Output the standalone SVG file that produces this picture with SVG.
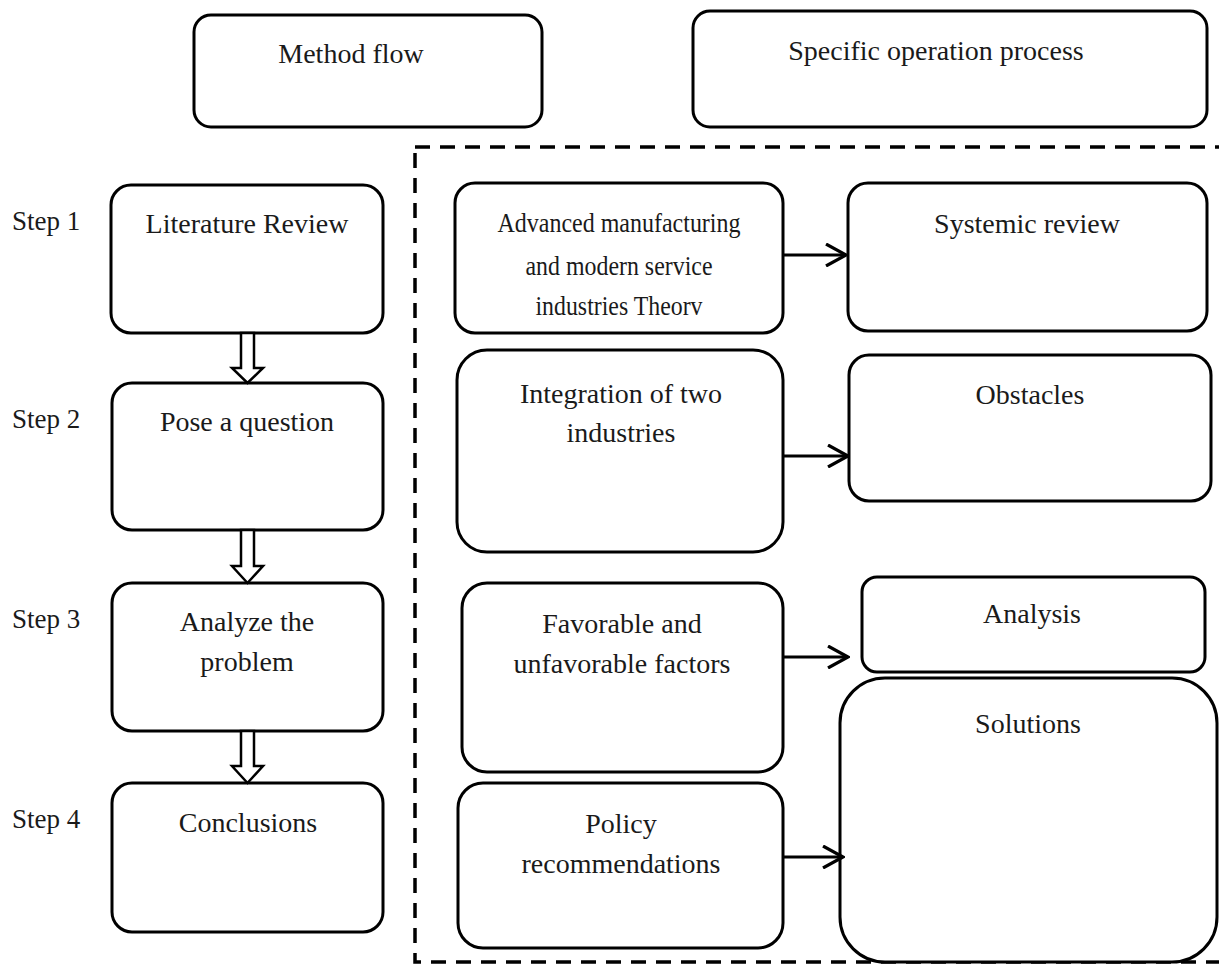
<svg xmlns="http://www.w3.org/2000/svg" width="1219" height="965" viewBox="0 0 1219 965">
<defs>
<style>
.box{fill:#fff;stroke:#000;stroke-width:3}
.t{font-family:"Liberation Serif","Times New Roman",serif;font-size:28px;fill:#1a1a1a;text-anchor:middle}
.s{font-family:"Liberation Serif","Times New Roman",serif;font-size:27px;fill:#1a1a1a}
.conn{stroke:#000;stroke-width:3;fill:none}
.hollow{fill:#fff;stroke:#000;stroke-width:2.5;stroke-linejoin:miter}
.dash{fill:none;stroke:#000;stroke-width:3.5;stroke-dasharray:15 10}
</style>
<marker id="arr" viewBox="0 0 24 24" refX="22" refY="12" markerWidth="24" markerHeight="24" markerUnits="userSpaceOnUse" orient="auto">
<path d="M2,1 L22,12 L2,23" fill="none" stroke="#000" stroke-width="3.2"/>
</marker>
</defs>
<rect width="1219" height="965" fill="#fff"/>

<rect class="dash" x="415" y="147" width="808" height="815"/>

<g id="method-flow"><rect class="box" x="194" y="15" width="348" height="112" rx="17"/><text class="t" x="351" y="63">Method flow</text></g>
<g id="specific-operation"><rect class="box" x="693" y="11" width="514" height="116" rx="17"/><text class="t" x="936" y="60">Specific operation process</text></g>

<g id="step-labels">
<text class="s" x="12" y="230">Step 1</text>
<text class="s" x="12" y="428">Step 2</text>
<text class="s" x="12" y="628">Step 3</text>
<text class="s" x="12" y="828">Step 4</text>
</g>

<g id="literature-review"><rect class="box" x="111" y="185" width="272" height="148" rx="20"/><text class="t" x="247" y="233">Literature Review</text></g>
<g id="pose-question"><rect class="box" x="112" y="383" width="271" height="147" rx="20"/><text class="t" x="247" y="431">Pose a question</text></g>
<g id="analyze-problem"><rect class="box" x="112" y="583" width="271" height="148" rx="20"/><text class="t" x="247" y="631">Analyze the</text><text class="t" x="247" y="671">problem</text></g>
<g id="conclusions"><rect class="box" x="112" y="783" width="271" height="149" rx="20"/><text class="t" x="248" y="832">Conclusions</text></g>

<g id="advanced"><rect class="box" x="455" y="183" width="328" height="150" rx="20"/>
<text class="t" x="619" y="232" textLength="243" lengthAdjust="spacingAndGlyphs">Advanced manufacturing</text>
<text class="t" x="619" y="275" textLength="187" lengthAdjust="spacingAndGlyphs">and modern service</text>
<text class="t" x="619" y="315" textLength="167" lengthAdjust="spacingAndGlyphs">industries Theorv</text></g>
<g id="systemic-review"><rect class="box" x="848" y="183" width="359" height="148" rx="20"/><text class="t" x="1027" y="233">Systemic review</text></g>
<g id="integration"><rect class="box" x="457" y="350" width="326" height="202" rx="30"/><text class="t" x="621" y="403">Integration of two</text><text class="t" x="621" y="442">industries</text></g>
<g id="obstacles"><rect class="box" x="849" y="355" width="362" height="146" rx="20"/><text class="t" x="1030" y="404">Obstacles</text></g>
<g id="favorable"><rect class="box" x="462" y="583" width="321" height="189" rx="25"/><text class="t" x="622" y="633">Favorable and</text><text class="t" x="622" y="673">unfavorable factors</text></g>
<g id="analysis"><rect class="box" x="862" y="577" width="343" height="95" rx="15"/><text class="t" x="1032" y="623">Analysis</text></g>
<g id="solutions"><rect class="box" x="840" y="678" width="377" height="284" rx="45"/><text class="t" x="1028" y="733">Solutions</text></g>
<g id="policy"><rect class="box" x="458" y="783" width="325" height="165" rx="25"/><text class="t" x="621" y="833">Policy</text><text class="t" x="621" y="873">recommendations</text></g>

<g id="connectors">
<path class="hollow" d="M241,333 L254,333 L254,368 L263,368 L247.5,383 L232,368 L241,368 Z"/>
<path class="hollow" d="M241,530 L254,530 L254,566 L263,566 L247.5,583 L232,566 L241,566 Z"/>
<path class="hollow" d="M241,731 L254,731 L254,766 L263,766 L247.5,783 L232,766 L241,766 Z"/>
<line class="conn" x1="783" y1="255" x2="846" y2="255" marker-end="url(#arr)"/>
<line class="conn" x1="783" y1="456" x2="848" y2="456" marker-end="url(#arr)"/>
<line class="conn" x1="783" y1="657" x2="848" y2="657" marker-end="url(#arr)"/>
<line class="conn" x1="783" y1="857" x2="843" y2="857" marker-end="url(#arr)"/>
</g>
</svg>
